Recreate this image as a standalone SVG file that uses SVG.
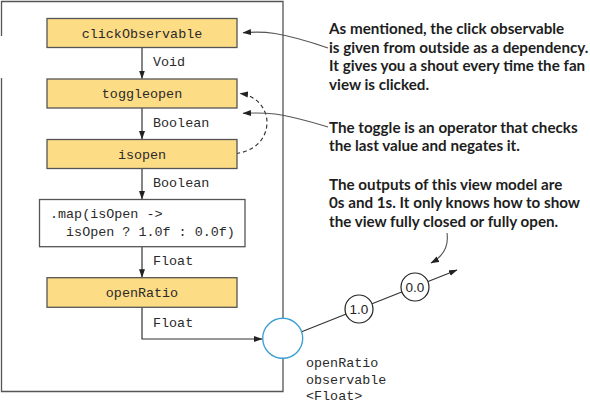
<svg xmlns="http://www.w3.org/2000/svg" width="590" height="402" viewBox="0 0 590 402">
<defs>
<marker id="ah" markerUnits="userSpaceOnUse" markerWidth="9" markerHeight="7" refX="8" refY="3.5" orient="auto">
<path d="M0,0.5 L8.5,3.5 L0,6.5 z" fill="#222"/>
</marker>
<style>
.box{fill:#fddc86;stroke:#555;stroke-width:1.3}
.wbox{fill:#fff;stroke:#555;stroke-width:1.3}
.mono{font-family:"Liberation Mono","Courier New",monospace;font-size:13.4px;fill:#2a2a2a}
.ann{font-family:Lato,"Open Sans",sans-serif;font-weight:700;font-size:15.2px;fill:#1e1e1e}
.line{fill:none;stroke:#333;stroke-width:1.2}
.call{fill:none;stroke:#555;stroke-width:1.1}
.small{fill:#fff;stroke:#222;stroke-width:1.2}
.num{font-family:"Liberation Sans",Arial,sans-serif;font-size:13.5px;fill:#222}
</style>
</defs>
<rect width="590" height="402" fill="#fff"/>
<path d="M1.5,36 V1.5 H283 V391.5 H1.5 V78" fill="none" stroke="#555" stroke-width="1.3"/>
<g id="connectors">
<line class="line" x1="142" y1="47.5" x2="142" y2="78.5" marker-end="url(#ah)"/>
<line class="line" x1="142" y1="108" x2="142" y2="139" marker-end="url(#ah)"/>
<line class="line" x1="142" y1="168.5" x2="142" y2="199" marker-end="url(#ah)"/>
<line class="line" x1="142" y1="246.7" x2="142" y2="277.2" marker-end="url(#ah)"/>
<path class="line" d="M142,307.3 V339 H262" marker-end="url(#ah)"/>
<line class="line" x1="301" y1="332" x2="457" y2="270" marker-end="url(#ah)"/>
<path d="M236,153.5 C262,150 270,130 266,115 C262,102 252,95 240,93.5" fill="none" stroke="#333" stroke-width="1.2" stroke-dasharray="4,3" marker-end="url(#ah)"/>
<path class="call" d="M328,48 C305,40 290,36 275,33.5 C262,31.5 252,32 243,32.7" marker-end="url(#ah)"/>
<path class="call" d="M328,127 C305,120 290,116 275,114 C262,112.5 252,113 243,113.3" marker-end="url(#ah)"/>
<path class="call" d="M447,233 C449,247 442,257 431,263" marker-end="url(#ah)"/>
</g>
<g id="clickObservable">
<rect class="box" x="47" y="18.5" width="190" height="29"/>
<text class="mono" x="142" y="37.5" text-anchor="middle">clickObservable</text>
</g>
<g id="label-void"><text class="mono" x="153" y="66">Void</text></g>
<g id="toggleopen">
<rect class="box" x="47" y="79" width="190" height="29"/>
<text class="mono" x="142" y="98" text-anchor="middle">toggleopen</text>
</g>
<g id="label-boolean1"><text class="mono" x="153" y="126.5">Boolean</text></g>
<g id="isopen">
<rect class="box" x="47" y="139.5" width="190" height="29"/>
<text class="mono" x="142" y="158.5" text-anchor="middle">isopen</text>
</g>
<g id="label-boolean2"><text class="mono" x="153" y="187.3">Boolean</text></g>
<g id="map">
<rect class="wbox" x="39.5" y="199.5" width="205.5" height="47.2"/>
<text class="mono" x="50" y="218.3">.map(isOpen -&gt;</text>
<text class="mono" x="50" y="236" xml:space="preserve">  isOpen ? 1.0f : 0.0f)</text>
</g>
<g id="label-float1"><text class="mono" x="153" y="265.3">Float</text></g>
<g id="openRatio">
<rect class="box" x="47" y="277.7" width="190" height="29.6"/>
<text class="mono" x="142" y="297" text-anchor="middle">openRatio</text>
</g>
<g id="label-float2"><text class="mono" x="153" y="326.7">Float</text></g>
<g id="observable">
<circle cx="282.7" cy="338.3" r="20" fill="#fff" stroke="#3d9fd3" stroke-width="1.4"/>
<text class="mono" x="306" y="366.5">openRatio</text>
<text class="mono" x="306" y="383.5">observable</text>
<text class="mono" x="306" y="399.5">&lt;Float&gt;</text>
</g>
<g id="value-1">
<circle class="small" cx="359" cy="309" r="14"/>
<text class="num" x="359" y="313.8" text-anchor="middle">1.0</text>
</g>
<g id="value-0">
<circle class="small" cx="415" cy="287" r="14"/>
<text class="num" x="415" y="291.8" text-anchor="middle">0.0</text>
</g>
<g id="note-click">
<text class="ann" x="329" y="34">As mentioned, the click observable</text>
<text class="ann" x="329" y="52.5">is given from outside as a dependency.</text>
<text class="ann" x="329" y="71">It gives you a shout every time the fan</text>
<text class="ann" x="329" y="89.5">view is clicked.</text>
</g>
<g id="note-toggle">
<text class="ann" x="329" y="132.5">The toggle is an operator that checks</text>
<text class="ann" x="329" y="151">the last value and negates it.</text>
</g>
<g id="note-outputs">
<text class="ann" x="329" y="189.5">The outputs of this view model are</text>
<text class="ann" x="329" y="208">0s and 1s. It only knows how to show</text>
<text class="ann" x="329" y="227">the view fully closed or fully open.</text>
</g>
</svg>
